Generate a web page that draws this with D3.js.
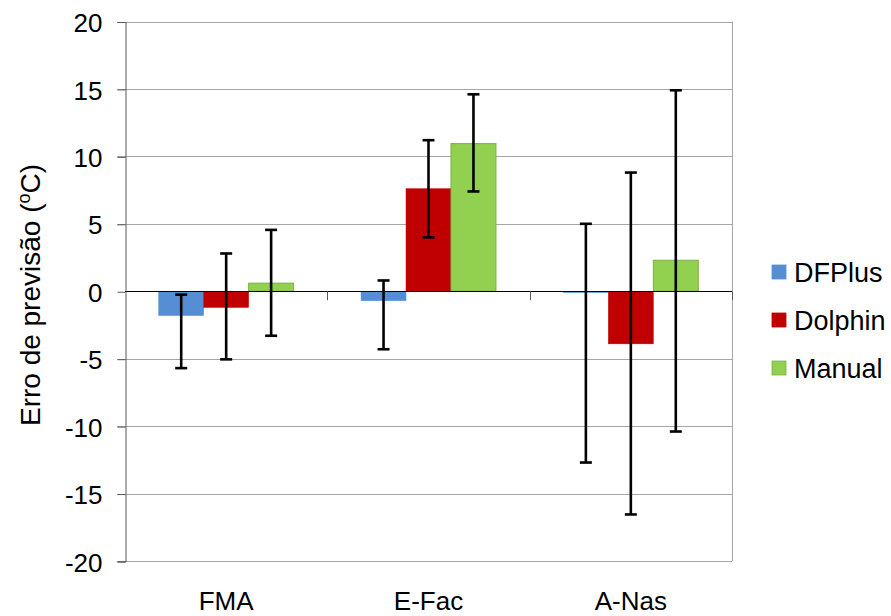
<!DOCTYPE html>
<html>
<head>
<meta charset="utf-8">
<script src="https://cdn.jsdelivr.net/npm/d3@7"></script>
<style>
body { margin: 0; background: #fff; }
text { font-family: "Liberation Sans", Arial, sans-serif; fill: #000; }
</style>
</head>
<body>
<svg width="891" height="616"></svg>
<script>
// data
var categories = ['FMA', 'E-Fac', 'A-Nas'];
var seriesNames = ['DFPlus', 'Dolphin', 'Manual'];
var seriesColors = ['#558ED5', '#C00000', '#92D050'];
var seriesBorders = ['#558ED5', '#C00000', '#7FAF45'];
var dfplus = [-1.8, -0.7, -0.1];
var dolphin = [-1.2, 7.6, -3.9];
var manual = [0.6, 10.95, 2.3];
// error bar ends (low, high)
var dfplusErr = [[-5.7, -0.25], [-4.3, 0.8], [-12.7, 5.0]];
var dolphinErr = [[-5.05, 2.8], [4.0, 11.2], [-16.55, 8.8]];
var manualErr = [[-3.3, 4.55], [7.4, 14.6], [-10.4, 14.9]];
var yTicks = [-20, -15, -10, -5, 0, 5, 10, 15, 20];

var values = [dfplus, dolphin, manual];
var errs = [dfplusErr, dolphinErr, manualErr];

var svg = d3.select('svg');
var plotLeft = 125, plotRight = 732, plotTop = 21.5, plotBottom = 561;

var x = d3.scaleBand().domain(categories).range([plotLeft, plotRight]);
var y = d3.scaleLinear().domain([-20, 20]).range([plotBottom, plotTop]);
// bar width = band / 4.5 (gap width 150%)
var barW = x.bandwidth() / 4.5;
function barX(cat, i) { return x(cat) + barW * 0.75 + i * barW; }

// gridlines
svg.append('g').selectAll('line').data(yTicks).enter().append('line')
    .attr('x1', plotLeft - 8).attr('x2', plotRight)
    .attr('y1', function(d) { return Math.round(y(d)) + 0.5; })
    .attr('y2', function(d) { return Math.round(y(d)) + 0.5; })
    .attr('stroke', function(d) { return d === 0 ? 'none' : '#a6a6a6'; })
    .attr('stroke-width', 1);

// right border
svg.append('line').attr('x1', plotRight + 0.5).attr('x2', plotRight + 0.5)
    .attr('y1', plotTop).attr('y2', plotBottom).attr('stroke', '#a6a6a6');

// y axis (plain hyphen for negatives)
var yAxis = d3.axisLeft(y).tickValues(yTicks).tickSize(8).tickPadding(15)
    .tickFormat(function(d) { return String(d); });
var gy = svg.append('g').attr('transform', 'translate(' + (plotLeft + 0.5) + ',0.5)').call(yAxis);
gy.select('.domain').attr('stroke', '#595959');
gy.selectAll('.tick line').attr('stroke', '#595959');
gy.selectAll('.tick text').attr('font-size', 26).attr('fill', '#000')
    .attr('font-family', '"Liberation Sans", Arial, sans-serif').attr('dy', '0.37em');

// bars
categories.forEach(function(cat, ci) {
    seriesNames.forEach(function(s, si) {
        var v = values[si][ci];
        svg.append('rect')
            .attr('x', barX(cat, si))
            .attr('width', barW)
            .attr('y', y(Math.max(0, v)))
            .attr('height', Math.abs(y(v) - y(0)))
            .attr('fill', seriesColors[si])
            .attr('stroke', seriesBorders[si])
            .attr('stroke-width', si === 2 ? 1 : 0.5);
    });
});

// zero line and category ticks
svg.append('line').attr('x1', plotLeft).attr('x2', plotRight)
    .attr('y1', Math.round(y(0)) + 0.5).attr('y2', Math.round(y(0)) + 0.5)
    .attr('stroke', '#000').attr('stroke-width', 1.2);
var bounds = categories.slice(1).map(function(c) { return x(c); }).concat([plotRight]);
svg.append('g').selectAll('line').data(bounds).enter().append('line')
    .attr('x1', function(d) { return Math.round(d) + 0.5; })
    .attr('x2', function(d) { return Math.round(d) + 0.5; })
    .attr('y1', y(0)).attr('y2', y(0) + 9)
    .attr('stroke', '#595959');

// error bars
categories.forEach(function(cat, ci) {
    seriesNames.forEach(function(s, si) {
        var e = errs[si][ci];
        var cx = barX(cat, si) + barW / 2;
        var g = svg.append('g').attr('stroke', '#000').attr('stroke-width', 2.6);
        g.append('line').attr('x1', cx).attr('x2', cx).attr('y1', y(e[0])).attr('y2', y(e[1]));
        g.append('line').attr('x1', cx - 6).attr('x2', cx + 6).attr('y1', y(e[0])).attr('y2', y(e[0]));
        g.append('line').attr('x1', cx - 6).attr('x2', cx + 6).attr('y1', y(e[1])).attr('y2', y(e[1]));
    });
});

// category labels
svg.append('g').selectAll('text').data(categories).enter().append('text')
    .attr('x', function(d) { return x(d) + x.bandwidth() / 2; })
    .attr('y', 610)
    .attr('text-anchor', 'middle')
    .attr('font-size', 26)
    .text(function(d) { return d; });

// y label
var yl = svg.append('text')
    .attr('transform', 'translate(40,295) rotate(-90)')
    .attr('text-anchor', 'middle')
    .attr('font-size', 28);
yl.append('tspan').text('Erro de previsão (');
yl.append('tspan').attr('font-size', 18).attr('dy', -10).text('o');
yl.append('tspan').attr('dy', 10).text('C)');

// legend
var leg = svg.append('g').selectAll('g').data(seriesNames).enter().append('g')
    .attr('transform', function(d, i) { return 'translate(772,' + (272 + i * 48) + ')'; });
leg.append('rect').attr('x', 0).attr('y', -7).attr('width', 14).attr('height', 14)
    .attr('fill', function(d, i) { return seriesColors[i]; })
    .attr('stroke', function(d, i) { return seriesBorders[i]; })
    .attr('stroke-width', 0.8);
leg.append('text').attr('x', 22).attr('y', 0).attr('dy', '0.36em')
    .attr('font-size', 27).text(function(d) { return d; });
</script>
</body>
</html>
